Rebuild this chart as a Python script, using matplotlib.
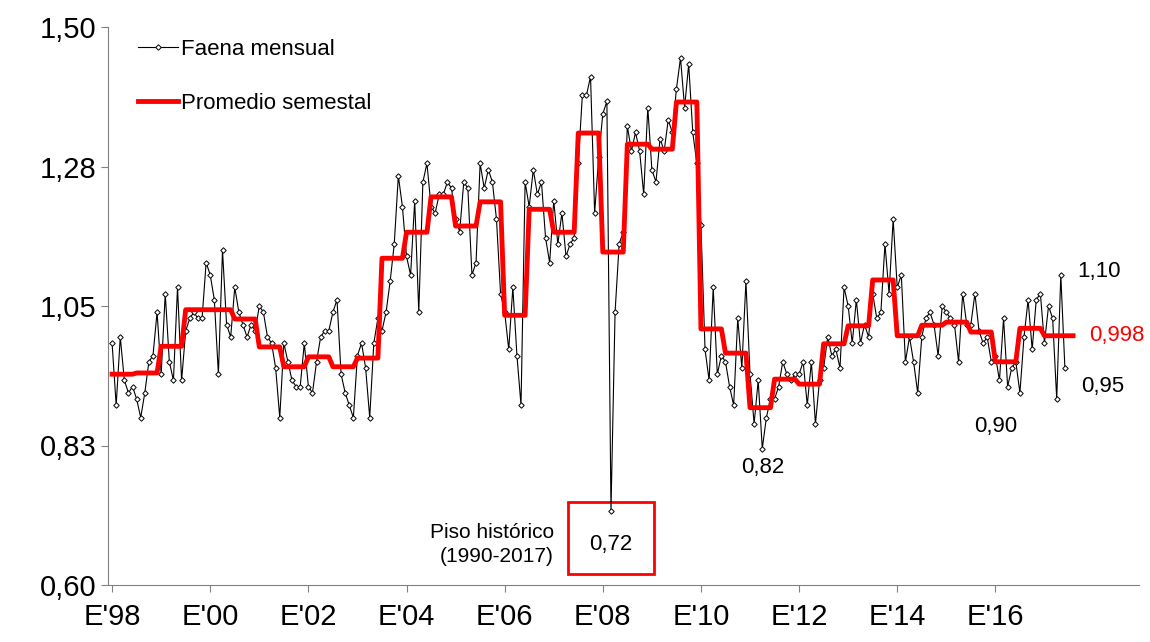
import numpy as np
import matplotlib.pyplot as plt
from matplotlib.patches import Rectangle

plt.rcParams['font.family'] = ['Liberation Sans', 'DejaVu Sans']

# faena mensual, ene-1998 .. jun-2017 (6 valores por semestre)
faena = [
    0.99, 0.89, 1.00, 0.93, 0.91, 0.92,
    0.90, 0.87, 0.91, 0.96, 0.97, 1.04,
    0.94, 1.07, 0.96, 0.93, 1.08, 0.93,
    1.01, 1.03, 1.04, 1.03, 1.03, 1.12,
    1.10, 1.06, 0.94, 1.14, 1.02, 1.00,
    1.08, 1.04, 1.02, 1.00, 1.02, 1.01,
    1.05, 1.04, 1.00, 0.99, 0.95, 0.87,
    0.99, 0.96, 0.93, 0.92, 0.92, 0.99,
    0.92, 0.91, 0.96, 1.00, 1.01, 1.01,
    1.04, 1.06, 0.94, 0.91, 0.89, 0.87,
    0.97, 0.99, 0.95, 0.87, 0.99, 1.03,
    1.01, 1.04, 1.09, 1.15, 1.26, 1.21,
    1.13, 1.10, 1.22, 1.04, 1.25, 1.28,
    1.21, 1.20, 1.23, 1.23, 1.25, 1.24,
    1.19, 1.17, 1.25, 1.24, 1.10, 1.12,
    1.28, 1.24, 1.27, 1.25, 1.19, 1.07,
    1.04, 0.98, 1.08, 0.97, 0.89, 1.25,
    1.21, 1.27, 1.23, 1.25, 1.16, 1.12,
    1.22, 1.15, 1.20, 1.13, 1.15, 1.16,
    1.28, 1.39, 1.39, 1.42, 1.20, 1.29,
    1.36, 1.38, 0.72, 1.04, 1.15, 1.17,
    1.34, 1.30, 1.33, 1.30, 1.23, 1.37,
    1.27, 1.25, 1.32, 1.30, 1.35, 1.33,
    1.40, 1.45, 1.37, 1.44, 1.33, 1.28,
    1.18, 0.98, 0.93, 1.08, 0.94, 0.97,
    0.96, 0.92, 0.89, 1.03, 0.95, 1.09,
    0.94, 0.86, 0.93, 0.82, 0.87, 0.90,
    0.90, 0.92, 0.96, 0.94, 0.93, 0.94,
    0.94, 0.96, 0.89, 0.96, 0.86, 0.93,
    0.95, 1.00, 0.97, 0.98, 0.95, 1.08,
    1.05, 0.99, 1.06, 0.99, 1.02, 1.00,
    1.07, 1.03, 1.04, 1.15, 1.07, 1.19,
    1.08, 1.10, 0.96, 1.00, 0.96, 0.91,
    1.00, 1.03, 1.04, 1.02, 0.97, 1.05,
    1.04, 1.03, 1.02, 0.96, 1.07, 1.02,
    1.02, 1.07, 1.01, 0.99, 1.00, 0.96,
    0.97, 0.93, 1.03, 0.92, 0.95, 0.96,
    0.91, 1.00, 1.06, 0.98, 1.06, 1.07,
    0.99, 1.05, 1.03, 0.90, 1.10, 0.95,
]

# promedio semestral
promedio = [0.940, 0.942, 0.985, 1.044, 1.044, 1.029, 0.984, 0.952, 0.968, 0.952,
            0.966, 1.127, 1.169, 1.226, 1.179, 1.218, 1.035, 1.206, 1.169, 1.329,
            1.137, 1.311, 1.303, 1.379, 1.013, 0.974, 0.886, 0.932, 0.924, 0.989,
            1.018, 1.092, 1.002, 1.019, 1.024, 1.008, 0.960, 1.014, 1.002]

ticks_lab = ["E'98", "E'00", "E'02", "E'04", "E'06", "E'08", "E'10", "E'12", "E'14", "E'16"]
yticks = [0.60, 0.825, 1.05, 1.275, 1.50]
ytick_lab = ["0,60", "0,83", "1,05", "1,28", "1,50"]

x = np.arange(len(faena))
prom_m = np.repeat(promedio, 6)
xp = np.append(x, x[-1] + 2)
prom_m = np.append(prom_m, prom_m[-1])

fig = plt.figure(figsize=(11.5, 6.42), dpi=100)
ax = fig.add_axes([108/1150, 57/642, 1 - 108/1150 - 0.01, (585-27)/642])

ax.plot(x, faena, color='black', lw=0.8, marker='D', ms=2.8, mfc='white', mec='black', mew=0.7,
        label='Faena mensual')
ax.plot(xp, prom_m, color='red', lw=3.5, label='Promedio semestal', zorder=3)

ax.set_xlim(-1, 251)
ax.set_ylim(0.60, 1.50)
ax.set_yticks(yticks)
ax.set_yticklabels(ytick_lab)
ax.set_xticks(np.arange(0, 24*len(ticks_lab), 24))
ax.set_xticklabels(ticks_lab)
ax.tick_params(axis='both', labelsize=21, direction='out', length=5, color='#808080')
ax.tick_params(axis='x', pad=8)
for s in ['top', 'right']:
    ax.spines[s].set_visible(False)
for s in ['left', 'bottom']:
    ax.spines[s].set_color('#808080')

ax.legend(loc='upper left', bbox_to_anchor=(0.01, 1.015), frameon=False, fontsize=16,
          labelspacing=1.5, handlelength=1.8, handletextpad=0.1)

# anotaciones
ax.text(233 + 3, 1.106, "1,10", fontsize=16, va='center')
ax.text(233 + 6, 1.002, "0,998", fontsize=16, va='center', color='red')
ax.text(233 + 4, 0.92, "0,95", fontsize=16, va='center')
ax.text(216, 0.855, "0,90", fontsize=16, va='center', ha='center')
ax.text(159, 0.79, "0,82", fontsize=16, va='center', ha='center')
ax.text(122, 0.665, "0,72", fontsize=16, va='center', ha='center')
ax.add_patch(Rectangle((111.5, 0.617), 21, 0.117, fill=False, ec='red', lw=2))
ax.text(108, 0.665, "Piso histórico\n(1990-2017)", fontsize=15, va='center', ha='right',
        multialignment='right', linespacing=1.3)

fig.savefig('out.png', dpi=100)
